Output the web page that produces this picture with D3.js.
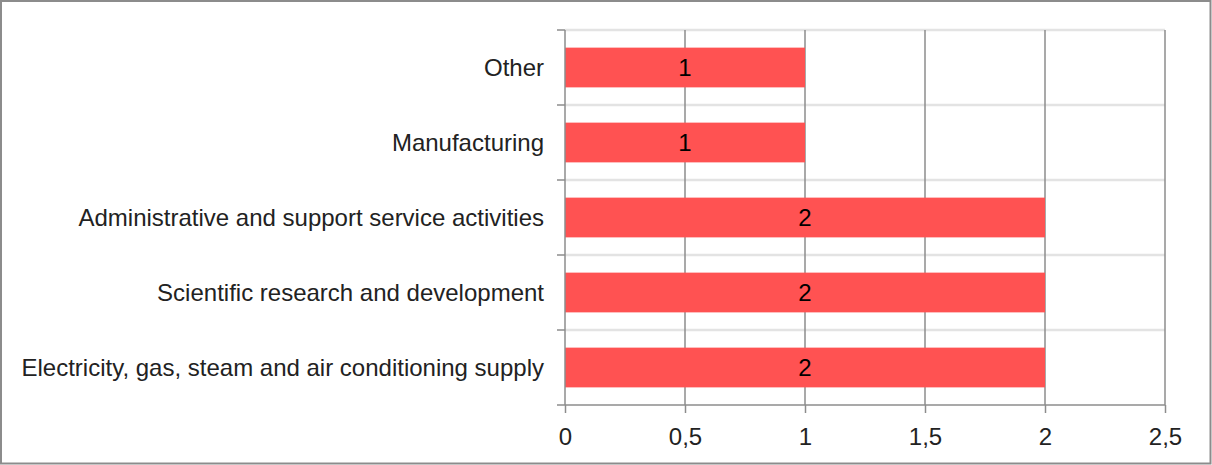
<!DOCTYPE html>
<html>
<head>
<meta charset="utf-8">
<script src="https://cdn.jsdelivr.net/npm/d3@7"></script>
<style>
  html, body { margin: 0; padding: 0; background: #fff; }
  svg { display: block; font-family: "Liberation Sans", Arial, sans-serif; }
</style>
</head>
<body>
<svg id="chart" width="1212" height="465"></svg>
<script>
// Sectors, top to bottom
const categories = [
  "Other",
  "Manufacturing",
  "Administrative and support service activities",
  "Scientific research and development",
  "Electricity, gas, steam and air conditioning supply"
];
const values = [1, 1, 2, 2, 2];
const xTicks = [0, 0.5, 1, 1.5, 2, 2.5];
const xTickLabels = ["0", "0,5", "1", "1,5", "2", "2,5"];

const svg = d3.select("#chart");
const W = 1212, H = 465;
const margin = { left: 565, right: 47, top: 30, bottom: 60 };
const FS = 24;

// outer frame
svg.append("rect")
  .attr("x", 1).attr("y", 1)
  .attr("width", W - 2.5).attr("height", H - 2.5)
  .attr("fill", "#fff").attr("stroke", "#8c8c8c").attr("stroke-width", 2);

const x = d3.scaleLinear().domain([0, 2.5]).range([margin.left, W - margin.right]);
const y = d3.scaleBand().domain(categories).range([margin.top, H - margin.bottom]).paddingInner(0.47).paddingOuter(0.235);
const yb = d3.scaleBand().domain(categories).range([margin.top, H - margin.bottom]);

// light horizontal separators between categories
const bounds = categories.map(c => yb(c));
svg.append("g").selectAll("line").data(bounds).join("line")
  .attr("x1", x(0)).attr("x2", x(2.5))
  .attr("y1", d => d).attr("y2", d => d)
  .attr("stroke", "#e3e3e3").attr("stroke-width", 2.5);

// vertical gridlines
svg.append("g").selectAll("line").data(xTicks.slice(1)).join("line")
  .attr("x1", d => x(d)).attr("x2", d => x(d))
  .attr("y1", margin.top).attr("y2", H - margin.bottom)
  .attr("stroke", "#8c8c8c").attr("stroke-width", 1.5);

// bars
svg.append("g").selectAll("rect").data(values).join("rect")
  .attr("x", x(0))
  .attr("y", (d, i) => y(categories[i]))
  .attr("width", d => x(d) - x(0))
  .attr("height", y.bandwidth())
  .attr("fill", "#ff5252");

// value labels
svg.append("g").selectAll("text").data(values).join("text")
  .attr("x", d => (x(0) + x(d)) / 2)
  .attr("y", (d, i) => y(categories[i]) + y.bandwidth() / 2)
  .attr("dy", "0.36em")
  .attr("text-anchor", "middle")
  .attr("font-size", FS)
  .attr("fill", "#000")
  .text(d => d);

// x axis
const xAxis = d3.axisBottom(x).tickValues(xTicks)
  .tickFormat((d, i) => xTickLabels[i]).tickSize(8).tickPadding(15);
const gx = svg.append("g").attr("transform", `translate(0,${H - margin.bottom})`).call(xAxis);
gx.select(".domain").attr("stroke", "#8c8c8c").attr("stroke-width", 1.5)
  .attr("d", `M${x(0)},0H${x(2.5)}`);
gx.selectAll(".tick line").attr("stroke", "#8c8c8c").attr("stroke-width", 1.5);
gx.selectAll(".tick text").attr("font-size", FS).attr("fill", "#222")
  .attr("font-family", "Liberation Sans, Arial, sans-serif");

// y axis line with ticks at category boundaries
svg.append("line")
  .attr("x1", x(0)).attr("x2", x(0))
  .attr("y1", margin.top).attr("y2", H - margin.bottom)
  .attr("stroke", "#8c8c8c").attr("stroke-width", 1.5);
svg.append("g").selectAll("line").data(bounds.concat([H - margin.bottom])).join("line")
  .attr("x1", x(0) - 8).attr("x2", x(0))
  .attr("y1", d => d).attr("y2", d => d)
  .attr("stroke", "#8c8c8c").attr("stroke-width", 1.5);

// category labels
svg.append("g").selectAll("text").data(categories).join("text")
  .attr("x", x(0) - 21)
  .attr("y", d => yb(d) + yb.bandwidth() / 2)
  .attr("dy", "0.36em")
  .attr("text-anchor", "end")
  .attr("font-size", FS)
  .attr("fill", "#222")
  .text(d => d);
</script>
</body>
</html>
